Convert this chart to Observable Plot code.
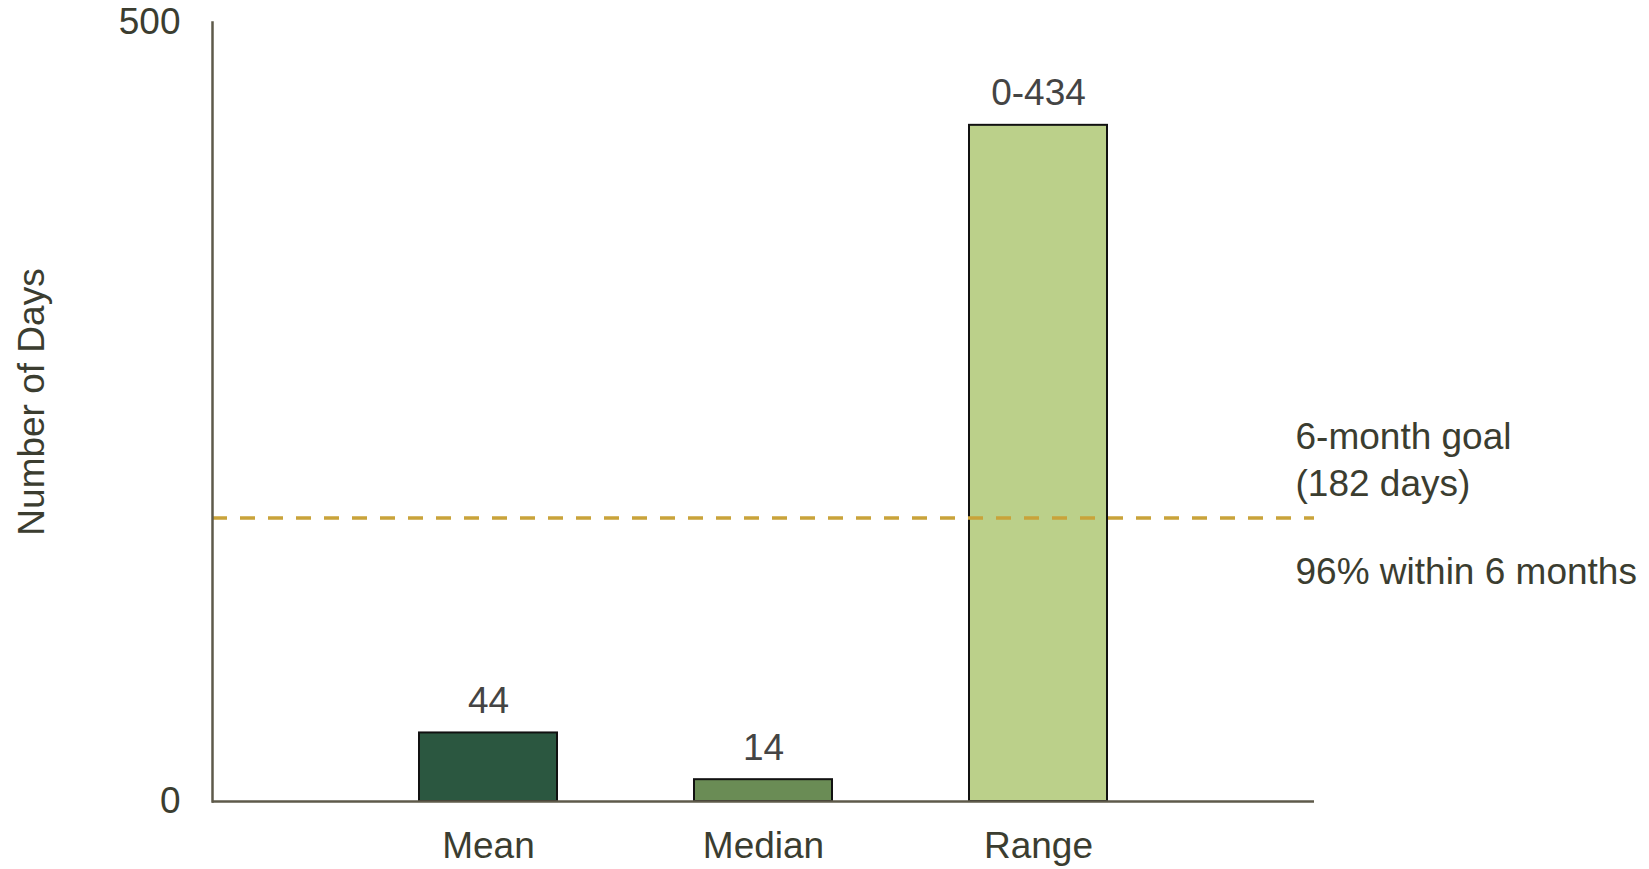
<!DOCTYPE html>
<html>
<head>
<meta charset="utf-8">
<script src="https://cdn.jsdelivr.net/npm/d3@7"></script>
<script src="https://cdn.jsdelivr.net/npm/@observablehq/plot@0.6"></script>
<style>
  html, body { margin: 0; padding: 0; background: #ffffff; }
  #chart svg { display: block; }
</style>
</head>
<body>
<div id="chart"></div>
<script>
const categories = ["Mean", "Median", "Range"];
const values = [44, 14, 434];
const valueLabels = ["44", "14", "0-434"];
const barColors = ["#2B5740", "#6A8C55", "#BBD08A"];
const goalValue = 182;
const goalLabel = "6-month goal\n(182 days)";
const goalNote = "96% within 6 months";
const yTicks = [0, 500];
const yTitle = "Number of Days";

const data = categories.map((c, i) => ({ category: c, value: values[i], label: valueLabels[i], color: barColors[i] }));

const font = "Liberation Sans, Arial, sans-serif";
const axisColor = "#5E5A4A";
const textColor = "#3B3D30";
const fs = 37;

const chart = Plot.plot({
  width: 1649,
  height: 869,
  marginLeft: 212,
  marginRight: 335,
  marginTop: 22,
  marginBottom: 68,
  style: { fontFamily: font, fontSize: fs + "px", color: textColor, background: "#ffffff" },
  x: { domain: categories, paddingInner: 0.5, paddingOuter: 0.75, label: null },
  y: { domain: [0, 500], label: null },
  marks: [
    Plot.rectY(data, { x: "category", y: "value", fill: "color", stroke: "#111111", strokeWidth: 2 }),
    Plot.text(data, { x: "category", y: "value", text: "label", dy: -32, fill: "#444444", fontSize: fs, lineAnchor: "middle" }),
    Plot.ruleY([goalValue], { stroke: "#C9A33A", strokeWidth: 3.5, strokeDasharray: "15,13", strokeLinecap: "butt" }),
    Plot.text([goalLabel], { y: () => goalValue, frameAnchor: "right", textAnchor: "start", dx: -19, dy: -22, lineAnchor: "bottom", lineHeight: 1.26, fill: textColor, fontSize: fs }),
    Plot.text([goalNote], { y: () => goalValue, frameAnchor: "right", textAnchor: "start", dx: -19, dy: 54, lineAnchor: "middle", fill: textColor, fontSize: fs }),
    Plot.axisY({ ticks: yTicks, tickSize: 0, tickPadding: 32, fontSize: fs, fill: textColor, label: null }),
    Plot.axisX({ tickSize: 0, tickPadding: 30, fontSize: fs, fill: textColor, label: null }),
    Plot.frame({ anchor: "left", stroke: axisColor, strokeWidth: 2.5 }),
    Plot.ruleY([0], { stroke: axisColor, strokeWidth: 2.5 }),
    Plot.text([yTitle], { frameAnchor: "left", textAnchor: "middle", dx: -180, dy: -10, rotate: -90, fill: textColor, fontSize: fs })
  ]
});

document.getElementById("chart").appendChild(chart);
</script>
</body>
</html>
